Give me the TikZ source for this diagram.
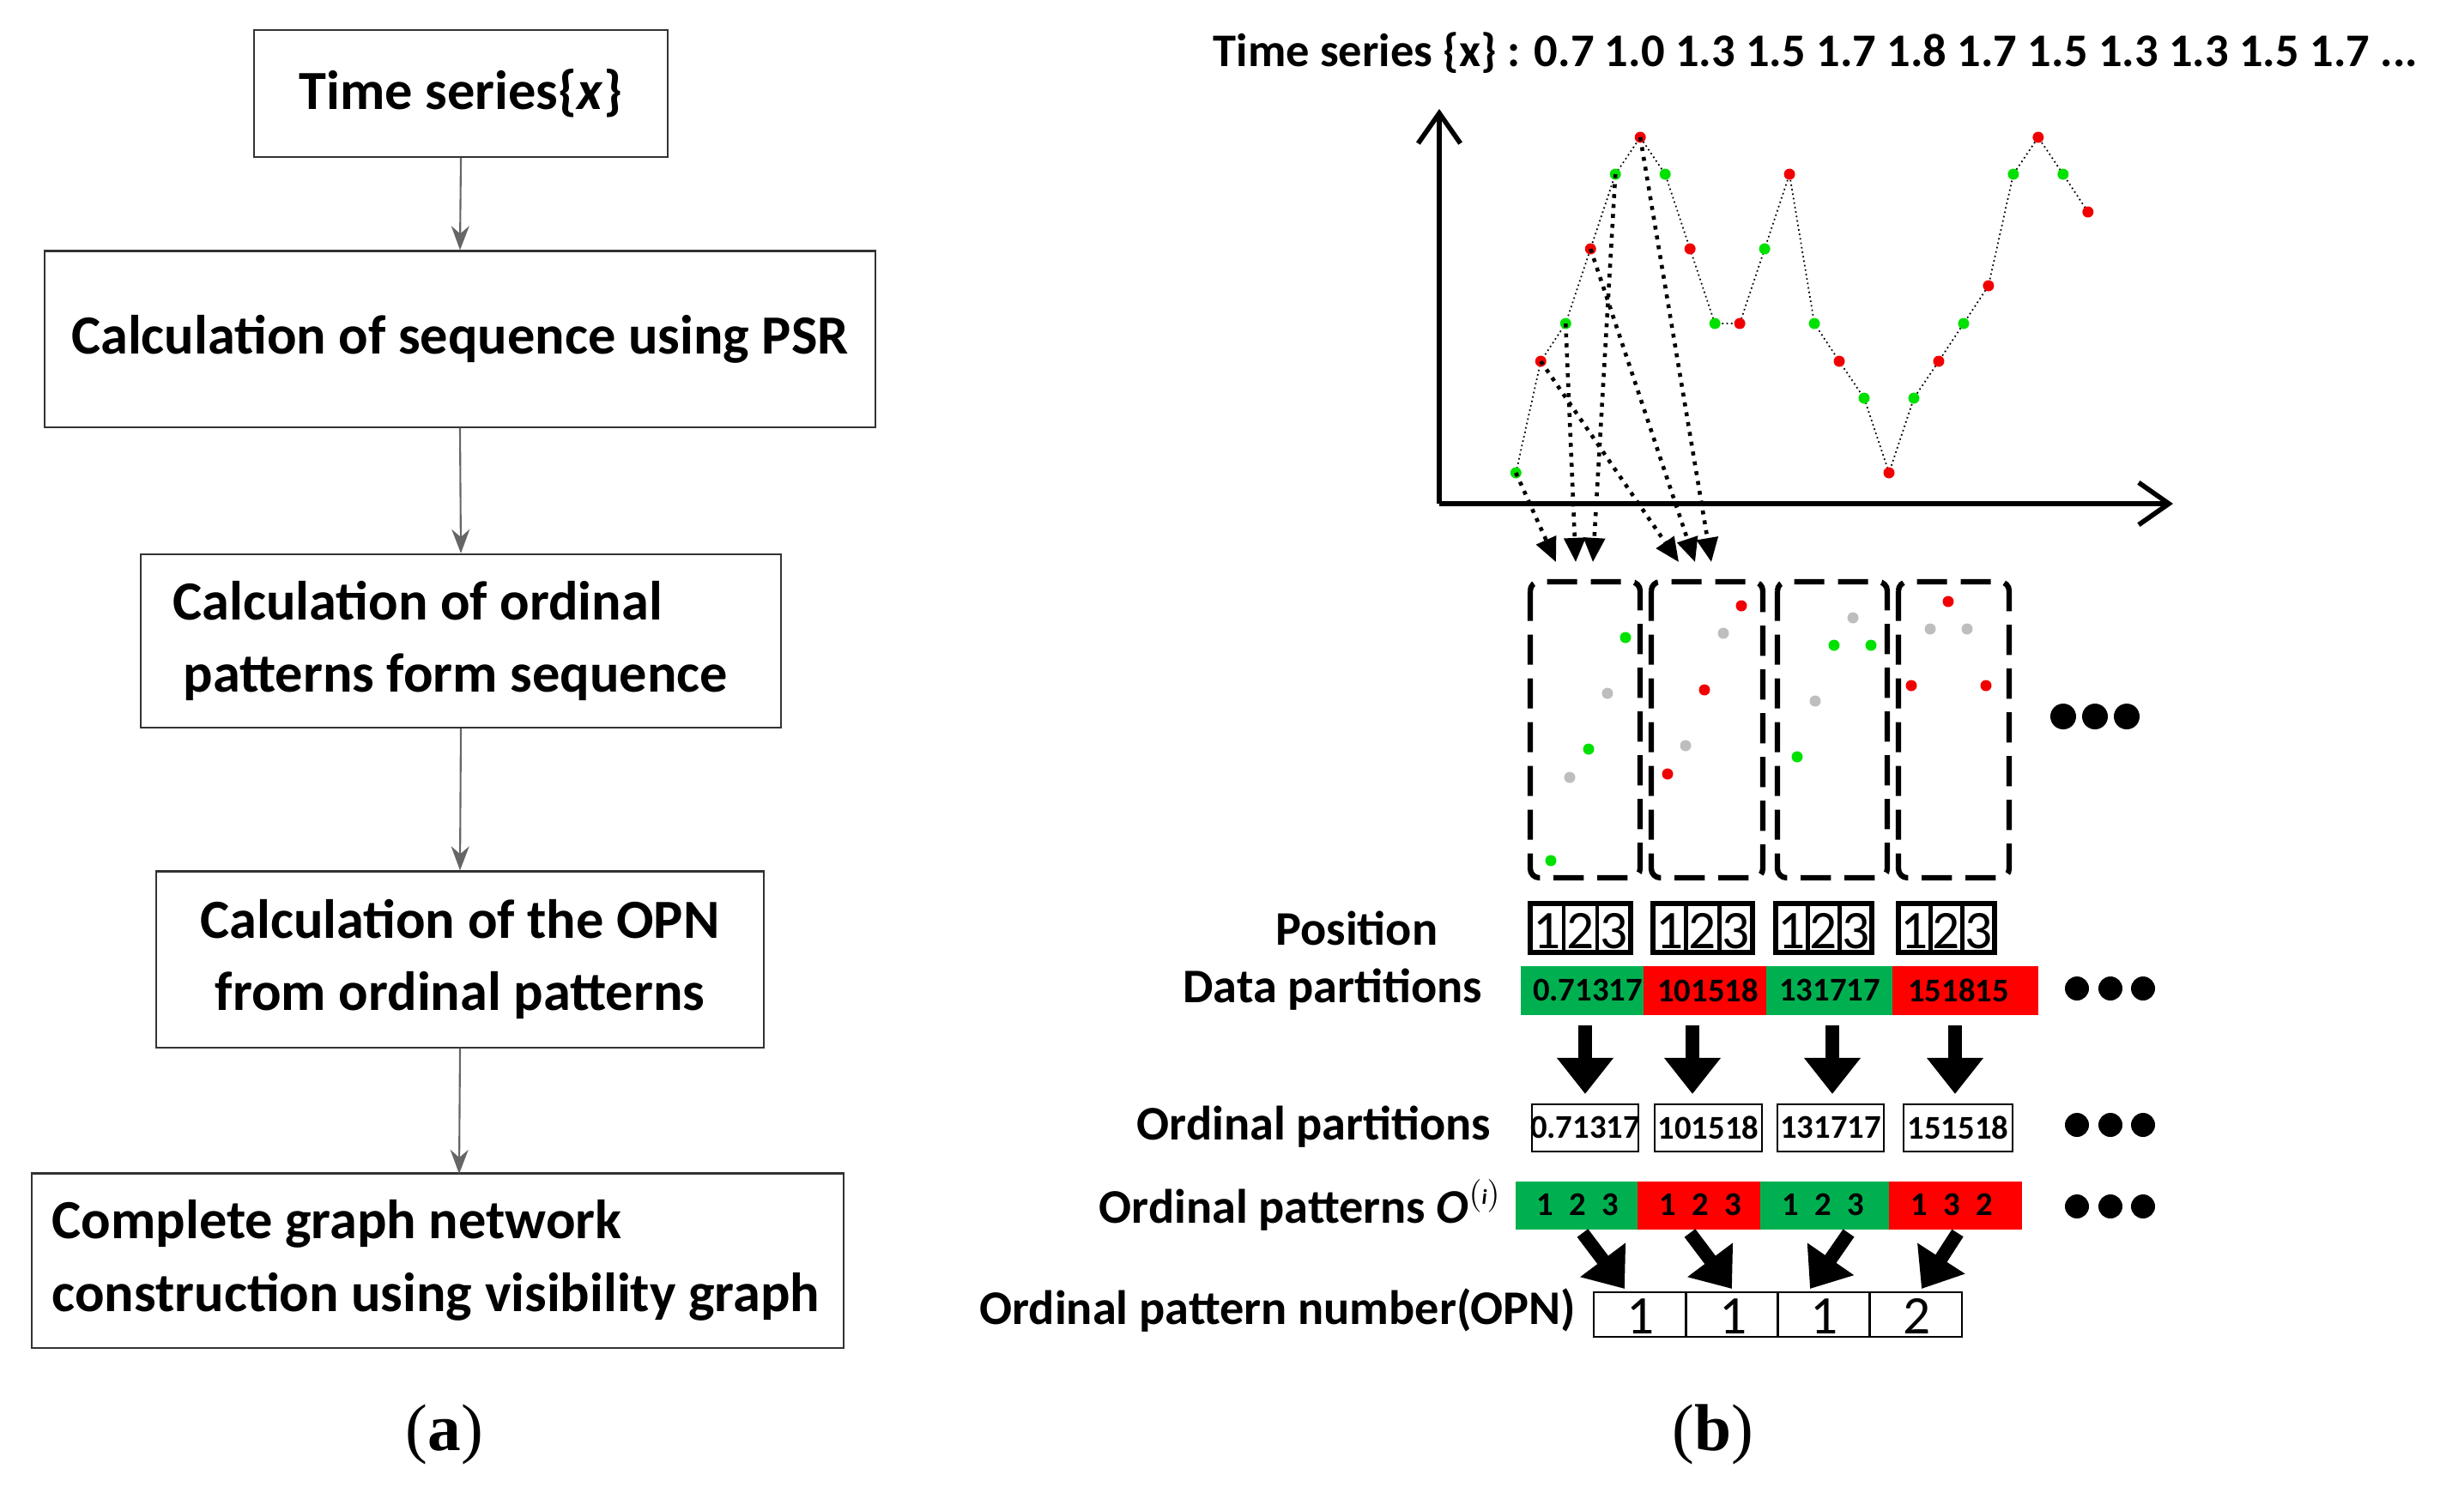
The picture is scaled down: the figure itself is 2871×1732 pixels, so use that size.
\documentclass[tikz,border=0pt]{standalone}
\usepackage{fontspec}
\setmainfont{Carlito}
\newfontfamily\serifb{Liberation Serif}
\usetikzlibrary{arrows.meta}
\definecolor{pg}{RGB}{0,225,0}
\definecolor{pr}{RGB}{240,0,0}
\definecolor{bg}{RGB}{0,176,80}
\definecolor{br}{RGB}{255,0,0}
\definecolor{dg}{RGB}{190,190,190}
\begin{document}
\begin{tikzpicture}[x=0.01cm,y=-0.01cm,
 fbox/.style={draw=black!80,line width=0.6pt,font=\fontsize{18.3}{24}\selectfont\bfseries,inner ysep=0pt},
 ftxt/.style={font=\fontsize{18.3}{24}\selectfont\bfseries,inner sep=0pt,anchor=west,align=left},
 flow/.style={draw=black!60,line width=0.6pt,-{Stealth[length=8pt,width=6pt]}},
 lab/.style={font=\fontsize{16}{18}\selectfont\bfseries,anchor=east,inner sep=0pt},
 dar/.style={dotted,line width=1.3pt,-{Triangle[length=8pt,width=7pt]}},
 bar/.style={line width=4.5pt,-{Triangle[length=12pt,width=18pt]}},
 cell/.style={font=\fontsize{11}{12}\selectfont\bfseries,inner sep=0pt}]
\useasboundingbox (0,0) rectangle (2871,1732);
% ---- flowchart (a)
\node[fbox,minimum width=4.81cm,minimum height=1.48cm] (b1) at (537,109) {Time series\{\textit{x}\}};
\node[fbox,minimum width=9.67cm,minimum height=2.05cm] (b2) at (536,395) {Calculation of sequence using PSR};
\node[fbox,minimum width=7.45cm,minimum height=2.02cm] (b3) at (537,747) {};
\node[ftxt] (t3) at (201,747) {Calculation of ordinal\\ \hspace*{0.12cm}patterns form sequence};
\node[fbox,minimum width=7.07cm,minimum height=2.05cm,align=center] (b4) at (536,1118) {Calculation of the OPN\\from ordinal patterns};
\node[fbox,minimum width=9.46cm,minimum height=2.03cm] (b5) at (510,1469) {};
\node[ftxt] (t5) at (60,1469) {Complete graph network\\construction using visibility graph};
\coordinate (c5) at (535,1368);
\draw[flow] (b1.south) -- (b2.north);
\draw[flow] (b2.south) -- (b3.north);
\draw[flow] (b3.south) -- (b4.north);
\draw[flow] (b4.south) -- (c5);
\node[font=\serifb\fontsize{22}{26}\selectfont] (la) at (518,1672) {(\textbf{a})};
\node[font=\serifb\fontsize{22}{26}\selectfont] (lb) at (1996,1672) {(\textbf{b})};
% ---- title
\node[font=\fontsize{15.5}{18}\selectfont\bfseries,anchor=west,inner sep=0pt] (tt) at (1413,62) {Time series \{x\} : 0.7 1.0 1.3 1.5 1.7 1.8 1.7 1.5 1.3 1.3 1.5 1.7 ...};
% ---- axes
\coordinate (o) at (1677,587);
\coordinate (ya) at (1677,127);
\coordinate (xa) at (2532,587);
\draw[line width=1.6pt,-{Straight Barb[length=10pt,width=14pt]}] (o) -- (ya);
\draw[line width=1.6pt,-{Straight Barb[length=10pt,width=14pt]}] (o) -- (xa);
% points
\foreach \i/\lv in {1/551,2/421,3/377,4/290,5/203,6/160,7/203,8/290,9/377,10/377,11/290,12/203,13/377,14/421,15/464,16/551,17/464,18/421,19/377,20/333,21/203,22/160,23/203,24/247}{
  \coordinate (p\i) at ({1766.3+(\i-1)*28.98},\lv);
}
\draw[densely dotted,line width=0.5pt] (p1) \foreach \i in {2,...,24}{ -- (p\i)};
\foreach \i/\c in {1/pg,2/pr,3/pg,4/pr,5/pg,6/pr,7/pg,8/pr,9/pg,10/pr,11/pg,12/pr,13/pg,14/pr,15/pg,16/pr,17/pg,18/pr,19/pg,20/pr,21/pg,22/pr,23/pg,24/pr}{
  \fill[\c] (p\i) circle (6.5);
}
\coordinate (t1) at (1813,655); \coordinate (t2) at (1836,655); \coordinate (t3) at (1856,655);
\coordinate (t4) at (1956,655); \coordinate (t5) at (1975,655); \coordinate (t6) at (1994,655);
\draw[dar] (p1) -- (t1); \draw[dar] (p3) -- (t2); \draw[dar] (p5) -- (t3);
\draw[dar] (p2) -- (t4); \draw[dar] (p4) -- (t5); \draw[dar] (p6) -- (t6);
% dashed windows
\foreach \a/\b in {1783/1911,1924/2054,2071/2199,2212/2341}{
  \draw[line width=1.8pt,dash pattern=on 10pt off 4.5pt,rounded corners=3pt] (\a,678) rectangle (\b,1023);
}
\foreach \x/\y/\c in {1894/743/pg,1873/808/dg,1851/873/pg,1829/906/dg,1807/1003/pg,
 2029/706/pr,2008/738/dg,1986/804/pr,1964/869/dg,1943/902/pr,
 2159/720/dg,2137/752/pg,2180/752/pg,2115/817/dg,2094/882/pg,
 2270/701/pr,2249/733/dg,2292/733/dg,2227/799/pr,2314/799/pr}{
  \fill[\c] (\x,\y) circle (6.5);
}
\foreach \x in {2404,2441,2478}{\fill (\x,835) circle (15);}
% position boxes
\node[lab] (lpos) at (1676,1082) {Position};
\foreach \a/\b in {1783/1900,1926/2042,2069/2181,2212/2324}{
  \draw[line width=1.8pt] (\a,1053) rectangle (\b,1110);
  \draw[line width=1.4pt] ({\a+(\b-\a)/3},1053) -- ({\a+(\b-\a)/3},1110);
  \draw[line width=1.4pt] ({\a+2*(\b-\a)/3},1053) -- ({\a+2*(\b-\a)/3},1110);
  \foreach \j in {1,2,3}{\node[font=\fontsize{18}{20}\selectfont,inner sep=0pt] at ({\a+(\j-0.5)*(\b-\a)/3},1085) {\j};}
}
% data partitions
\node[lab] (ldp) at (1728,1153) {Data partitions};
\fill[bg] (1772,1126) rectangle (1915,1183);
\fill[br] (1915,1126) rectangle (2058,1183);
\fill[bg] (2058,1126) rectangle (2205,1183);
\fill[br] (2205,1126) rectangle (2375,1183);
\node[cell] (d1) at (1850,1154) {0.71317};
\node[cell] (d2) at (1990,1154) {101518};
\node[cell] (d3) at (2132,1154) {131717};
\node[cell] (d4) at (2282,1154) {151815};
\foreach \x in {2420,2459,2497}{\fill (\x,1152) circle (14);}
% vertical arrows
\foreach \x in {1847,1972,2135,2278}{\draw[bar] (\x,1195) -- (\x,1275);}
% ordinal partitions
\node[lab] (lop) at (1738,1313) {Ordinal partitions};
\foreach \a/\b/\t in {1785/1909/0.71317,1928/2053/101518,2071/2195/131717,2218/2345/151518}{
  \draw[line width=0.8pt] (\a,1287) rectangle (\b,1342);
  \node[cell] at ({(\a+\b)/2},1314) {\t};
}
\foreach \x in {2420,2459,2497}{\fill (\x,1311) circle (14);}
% ordinal patterns
\node[lab] (lpt) at (1750,1404) {Ordinal patterns \textit{O}$^{(\textit{\scriptsize i})}$};
\fill[bg] (1766,1377) rectangle (1908,1433);
\fill[br] (1908,1377) rectangle (2051,1433);
\fill[bg] (2051,1377) rectangle (2201,1433);
\fill[br] (2201,1377) rectangle (2356,1433);
\foreach \x/\a/\b/\c in {1800/1/2/3,1943/1/2/3,2086/1/2/3,2236/1/3/2}{
  \node[cell] at (\x,1404) {\a};
  \node[cell] at (\x+38,1404) {\b};
  \node[cell] at (\x+76,1404) {\c};
}
\foreach \x in {2420,2459,2497}{\fill (\x,1406) circle (14);}
% diagonal arrows
\draw[bar] (1844,1437) -- (1893,1502);
\draw[bar] (1969,1437) -- (2018,1502);
\draw[bar] (2154,1437) -- (2109,1502);
\draw[bar] (2281,1437) -- (2239,1502);
% OPN
\node[lab] (lopn) at (1837,1527) {Ordinal pattern number(OPN)};
\foreach \a/\t in {1857/1,1965/1,2071/1,2179/2}{
  \draw[line width=0.8pt] (\a,1506) rectangle ({\a+107},1558);
  \node[font=\fontsize{18}{20}\selectfont,inner sep=0pt] at ({\a+55},1534) {\t};
}
\end{tikzpicture}
\end{document}
